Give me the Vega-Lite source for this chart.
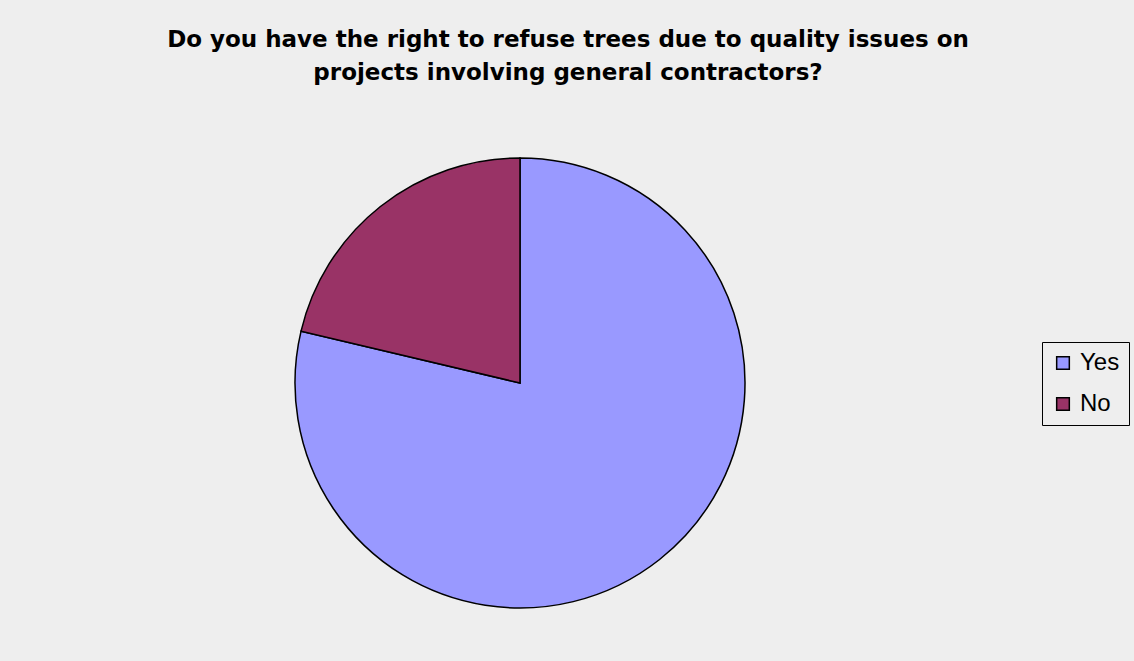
{
  "$schema": "https://vega.github.io/schema/vega-lite/v6.json",
  "autosize": {"type": "none"},
  "width": 1040,
  "height": 556,
  "padding": {"left": 0, "top": 105, "right": 94, "bottom": 0},
  "background": "#EEEEEE",
  "config": {"view": {"stroke": null}},
  "title": {
    "text": ["Do you have the right to refuse trees due to quality issues on", "projects involving general contractors?"],
    "font": "DejaVu Sans",
    "fontSize": 23,
    "fontWeight": "bold",
    "color": "#000000",
    "anchor": "middle",
    "dx": 48,
    "offset": 20,
    "lineHeight": 33
  },
  "data": {
    "values": [
      {"answer": "Yes", "percent": 78.7, "order": 1},
      {"answer": "No", "percent": 21.3, "order": 2}
    ]
  },
  "mark": {"type": "arc", "outerRadius": 225, "stroke": "#000000", "strokeWidth": 1.5},
  "encoding": {
    "theta": {"field": "percent", "type": "quantitative", "stack": true},
    "order": {"field": "order", "type": "quantitative"},
    "color": {
      "field": "answer",
      "type": "nominal",
      "scale": {"domain": ["Yes", "No"], "range": ["#9999FF", "#993366"]},
      "legend": {
        "title": null,
        "orient": "none",
        "legendX": 1042,
        "legendY": 237,
        "strokeColor": "#000000",
        "fillColor": "#EEEEEE",
        "padding": 9,
        "rowPadding": 17,
        "symbolType": "square",
        "symbolSize": 160,
        "symbolStrokeColor": "#000000",
        "symbolStrokeWidth": 1.5,
        "symbolOpacity": 1,
        "labelFont": "Liberation Sans",
        "labelFontSize": 24,
        "labelColor": "#000000",
        "labelOffset": 5
      }
    }
  }
}
